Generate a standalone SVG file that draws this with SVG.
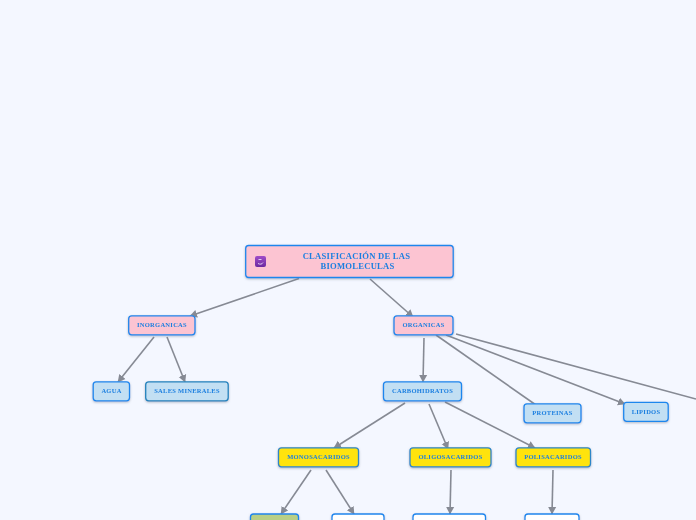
<svg xmlns="http://www.w3.org/2000/svg" width="696" height="520" viewBox="0 0 696 520">
<style>
.n{stroke-width:1.3}
.pink{fill:#fcc4d2;stroke:#1f86ee}
.blue{fill:#c2dff3;stroke:#1f86ee}
.teal{fill:#c2dff3;stroke:#2482bd}
.yel{fill:#ffe30f;stroke:#2f86c8}
.wht{fill:#fff;stroke:#1f86ee}
.grn{fill:#b9cf86;stroke:#1f86ee}
text{font-family:"Liberation Serif","DejaVu Serif",serif;font-weight:bold;font-size:6.5px;letter-spacing:.27px;fill:#1c7fe0;text-anchor:middle}
.title{font-size:8.6px;letter-spacing:.25px}
.c line{stroke:#868a94;stroke-width:1.6;marker-end:url(#a)}
</style>
<defs>
<marker id="a" markerUnits="userSpaceOnUse" markerWidth="10" markerHeight="10" refX="7" refY="4.500" orient="auto"><path d="M0 0.500L7.500 4.500L0 8.500z" fill="#868a94"/></marker>
<filter id="s" x="-10%" y="-20%" width="120%" height="150%"><feDropShadow dx="0" dy="1" stdDeviation="0.8" flood-color="#6a7a90" flood-opacity="0.5"/></filter>
<linearGradient id="g" x1="0" y1="0" x2="0" y2="1"><stop offset="0" stop-color="#a04cc8"/><stop offset="1" stop-color="#6a2aa0"/></linearGradient>
</defs>
<rect width="696" height="520" fill="#f4f7ff"/>
<g class="c">
<line x1="299" y1="278.500" x2="190" y2="316"/>
<line x1="370" y1="279" x2="413" y2="317"/>
<line x1="154" y1="337" x2="118" y2="382"/>
<line x1="167" y1="337" x2="185" y2="382"/>
<line x1="424" y1="338" x2="423" y2="382"/>
<line x1="436" y1="335" x2="546" y2="412" style="marker-end:none"/>
<line x1="446" y1="335" x2="625" y2="404"/>
<line x1="456" y1="334" x2="696" y2="399" style="marker-end:none"/>
<line x1="405" y1="403" x2="334" y2="448"/>
<line x1="429" y1="404" x2="448" y2="449"/>
<line x1="445" y1="402" x2="535" y2="448"/>
<line x1="311" y1="470" x2="281" y2="514"/>
<line x1="326" y1="470" x2="354" y2="514"/>
<line x1="451" y1="470" x2="450" y2="514"/>
<line x1="553" y1="470" x2="552" y2="514"/>
</g>
<g id="root" filter="url(#s)"><rect class="n pink" x="245.700" y="245.500" width="207.500" height="32" rx="3"/>
<rect x="255" y="256" width="11" height="11" rx="2" fill="url(#g)"/><path d="M258.500 259.500h3M258 263.500c2 1 4 1 5-1" fill="none" stroke="#e0ccf0" stroke-width="1"/>
<text class="title" x="356.500" y="258.800">CLASIFICACIÓN DE LAS</text><text class="title" x="357.500" y="268.800">BIOMOLECULAS</text></g>
<g id="inorganicas" filter="url(#s)"><rect class="n pink" x="128.700" y="315.800" width="66.300" height="19" rx="3"/><text x="162" y="327.300">INORGANICAS</text></g>
<g id="organicas" filter="url(#s)"><rect class="n pink" x="394" y="315.800" width="59" height="19" rx="3"/><text x="423.500" y="327.300">ORGANICAS</text></g>
<g id="agua" filter="url(#s)"><rect class="n blue" x="93.200" y="381.800" width="36.300" height="19" rx="3"/><text x="111.500" y="393.300">AGUA</text></g>
<g id="sales" filter="url(#s)"><rect class="n teal" x="145.700" y="381.800" width="82.500" height="19" rx="3"/><text x="187" y="393.300">SALES MINERALES</text></g>
<g id="carbohidratos" filter="url(#s)"><rect class="n blue" x="383.500" y="381.800" width="78" height="19" rx="3"/><text x="422.500" y="393.300">CARBOHIDRATOS</text></g>
<g id="proteinas" filter="url(#s)"><rect class="n blue" x="524" y="403.800" width="57" height="19" rx="3"/><text x="552.500" y="415.300">PROTEINAS</text></g>
<g id="lipidos" filter="url(#s)"><rect class="n blue" x="623.700" y="402.300" width="44.500" height="19" rx="3"/><text x="646" y="413.800">LIPIDOS</text></g>
<g id="monosacaridos" filter="url(#s)"><rect class="n yel" x="278.500" y="447.800" width="80" height="19" rx="3"/><text x="318.500" y="459.300">MONOSACARIDOS</text></g>
<g id="oligosacaridos" filter="url(#s)"><rect class="n yel" x="410" y="447.800" width="81" height="19" rx="3"/><text x="450.500" y="459.300">OLIGOSACARIDOS</text></g>
<g id="polisacaridos" filter="url(#s)"><rect class="n yel" x="516" y="447.800" width="74.500" height="19" rx="3"/><text x="553" y="459.300">POLISACARIDOS</text></g>
<g id="n1" filter="url(#s)"><rect class="n grn" x="250.500" y="514" width="48" height="19" rx="3"/></g>
<g id="n2" filter="url(#s)"><rect class="n wht" x="332" y="514" width="52" height="19" rx="3"/></g>
<g id="n3" filter="url(#s)"><rect class="n wht" x="413" y="514" width="72.500" height="19" rx="3"/></g>
<g id="n4" filter="url(#s)"><rect class="n wht" x="525" y="514" width="54" height="19" rx="3"/></g>
</svg>
